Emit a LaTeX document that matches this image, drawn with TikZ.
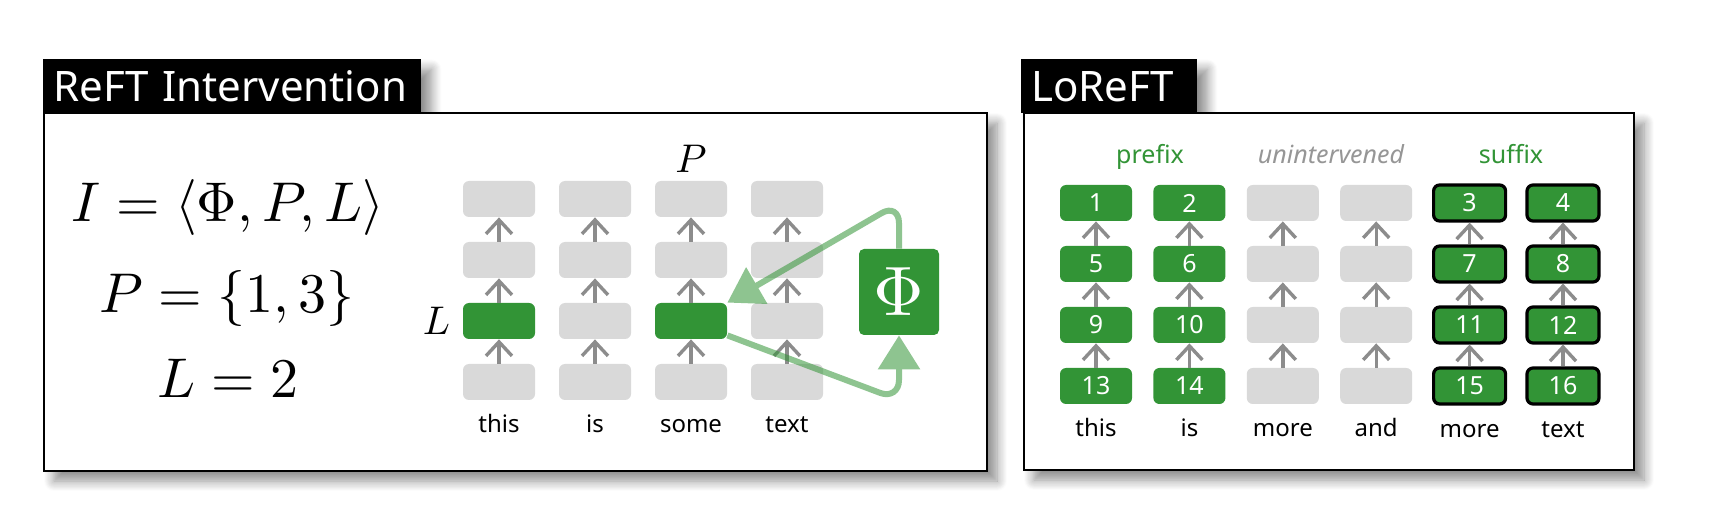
\RequirePackage{fix-cm}
\documentclass[tikz,border=0pt]{standalone}
\usepackage{fontspec}
\setsansfont{Noto Sans}
\usepackage{amsmath,amssymb}
\usepackage{graphicx}
\usepackage{tikz}
\usetikzlibrary{positioning,arrows.meta,shadows.blur}

\definecolor{reftgreen}{RGB}{50,148,54}
\definecolor{cellgray}{RGB}{217,217,217}
\definecolor{upgray}{RGB}{140,140,140}
\definecolor{quietgray}{RGB}{150,150,150}

\tikzset{
  panel/.style={draw=black, line width=1.2pt, fill=white,
    blur shadow={shadow xshift=5pt, shadow yshift=-5pt, shadow blur steps=10,
      shadow blur radius=5pt, shadow opacity=45}},
  titlebox/.style={fill=black, text=white, anchor=north west, inner xsep=5pt,
    minimum height=27pt, text width=179pt, align=left,
    font=\sffamily\fontsize{21}{25}\selectfont,
    blur shadow={shadow xshift=5pt, shadow yshift=-5pt, shadow blur steps=10,
      shadow blur radius=5pt, shadow opacity=45}},
  cell/.style={fill=cellgray, rounded corners=3pt, minimum width=36pt,
    minimum height=18pt, inner sep=0pt, text=white,
    font=\sffamily\fontsize{12.5}{14}\selectfont},
  prefixcell/.style={fill=reftgreen},
  suffixcell/.style={fill=reftgreen, draw=black, line width=1.6pt},
  uparrow/.style={draw=upgray, line width=1.7pt,
    -{Straight Barb[length=7pt,width=13pt]}},
  feed/.style={draw=reftgreen, line width=3pt, rounded corners=10pt,
    -{Triangle[length=17pt,width=20.5pt]}},
  word/.style={anchor=base, font=\sffamily\fontsize{12}{14}\selectfont},
  span/.style={anchor=base, font=\sffamily\fontsize{12.5}{15}\selectfont},
  formula/.style={anchor=base},
  axislabel/.style={inner sep=0pt}
}

\begin{document}
\begin{tikzpicture}[x=0.5pt,y=-0.5pt]
\useasboundingbox (0,0) rectangle (1726,518);

% left panel
\node (lefttitle) [titlebox] at (43,59) {ReFT Intervention};
\draw[panel] (44,113) rectangle (987,471);

\node (f1) [formula] at (228,222) {\scalebox{2.8}{$I=\langle\Phi,P,L\rangle$}};
\node (f2) [formula] at (227,313) {\scalebox{2.8}{$P=\{1,3\}$}};
\node (f3) [formula] at (228,398) {\scalebox{2.8}{$L=2$}};

\foreach \i/\x in {1/499,2/595,3/691,4/787}
  \foreach \j/\y in {1/199,2/260,3/321,4/382} {
    \def\cellfill{cellgray}
    \ifnum\j=3 \ifodd\i \def\cellfill{reftgreen}\fi\fi
    \node (a-\i-\j) [cell, fill=\cellfill] at (\x,\y) {};
  }
\foreach \i in {1,...,4}
  \foreach \j in {1,2,3} {
    \pgfmathtruncatemacro\k{\j+1}
    \draw[uparrow] (a-\i-\k) -- (a-\i-\j);
  }

\foreach \i/\w in {1/this,2/is,3/some,4/text}
  \node (w-\i) [word] at ([yshift=-16pt]a-\i-4.south) {\w};

\node (plabel) [axislabel, above=4pt of a-3-1] {\scalebox{2}{$P$}};
\node (llabel) [axislabel, left=6pt of a-1-3] {\scalebox{2}{$L$}};

\node (phi) [fill=reftgreen, rounded corners=2.5pt, minimum width=40pt,
  minimum height=43pt, text=white]
  at (899,292) {\scalebox{3.5}{$\Phi$}};

\coordinate (topbend) at (899,203);
\coordinate (botbend) at (899,400);
\begin{scope}[transparency group, opacity=0.55]
\draw[feed] (phi.north) -- (topbend) -- (a-3-3.north east);
\end{scope}
\begin{scope}[transparency group, opacity=0.55]
\draw[feed] ([yshift=2pt]a-3-3.south east) -- (botbend) -- (phi.south);
\end{scope}

% right panel
\node (righttitle) [titlebox, text width=78pt] at (1021,59) {LoReFT};
\draw[panel] (1024,113) rectangle (1634,470);

\foreach \i/\x in {1/1096,2/1189.4,3/1282.8,4/1376.2,5/1469.6,6/1563}
  \foreach \j/\y in {1/203,2/264,3/325,4/386} {
    \pgfmathtruncatemacro\n{4*(\j-1)+\i-(\i>4)*2}
    \ifnum\i<3
      \node (b-\i-\j) [cell, prefixcell] at (\x,\y) {\n};
    \else\ifnum\i>4
      \node (b-\i-\j) [cell, suffixcell] at (\x,\y) {\n};
    \else
      \node (b-\i-\j) [cell] at (\x,\y) {};
    \fi\fi
  }
\foreach \i in {1,...,6}
  \foreach \j in {1,2,3} {
    \pgfmathtruncatemacro\k{\j+1}
    \draw[uparrow] (b-\i-\k) -- (b-\i-\j);
  }

\node (prefix) [span, text=reftgreen] at (1150,164) {prefix};
\node (unint) [span, text=quietgray, font=\sffamily\itshape\fontsize{12.5}{15}\selectfont]
  at (1331,164) {unintervened};
\node (suffix) [span, text=reftgreen] at (1511,164) {suffix};

\foreach \i/\w in {1/this,2/is,3/more,4/and,5/more,6/text}
  \node (v-\i) [word] at ([yshift=-16pt]b-\i-4.south) {\w};
\end{tikzpicture}
\end{document}
